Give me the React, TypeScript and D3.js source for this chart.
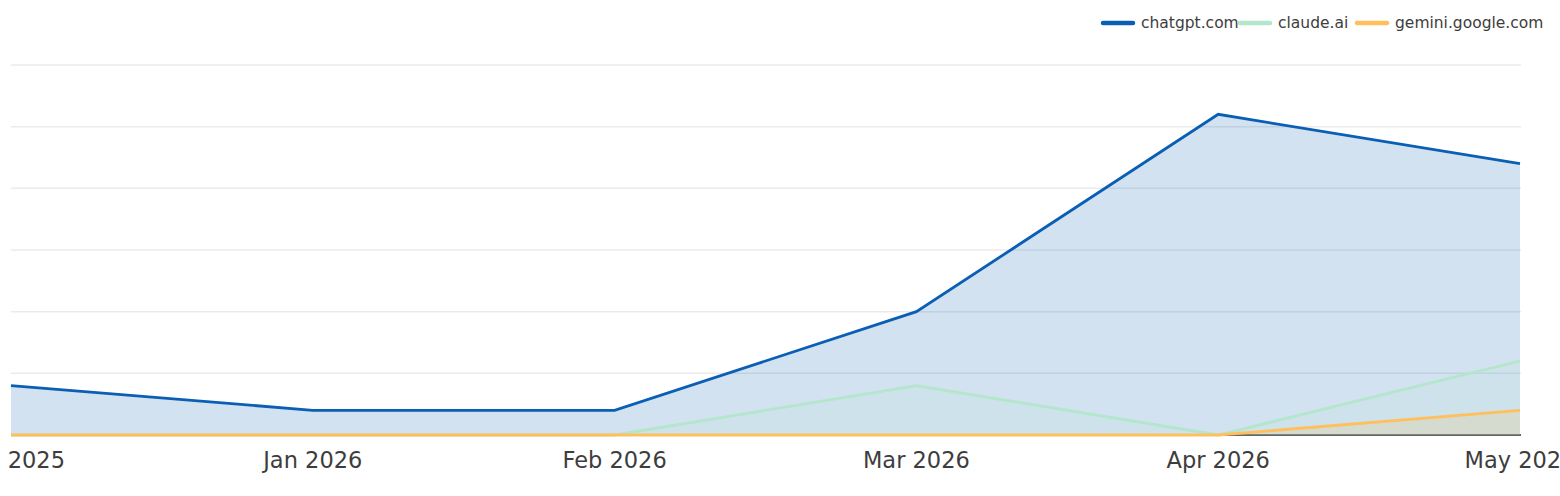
import { useEffect, useRef } from 'react';
import * as d3 from 'd3';

// Datos
const months = ['2025-12', '2026-01', '2026-02', '2026-03', '2026-04', '2026-05'];
const monthLabels = ['Dec 2025', 'Jan 2026', 'Feb 2026', 'Mar 2026', 'Apr 2026', 'May 2026'];
const chatgpt = [2, 1, 1, 5, 13, 11];
const claude = [0, 0, 0, 2, 0, 3];
const gemini = [0, 0, 0, 0, 0, 1];
const yTicks = [0, 2.5, 5, 7.5, 10, 12.5, 15];

const seriesNames = ['chatgpt.com', 'claude.ai', 'gemini.google.com'];
const seriesColors = ['#0a5fb4', '#b3e6cb', '#ffbf5c'];

export default function App() {
  const ref = useRef<SVGSVGElement | null>(null);

  useEffect(() => {
    if (!ref.current) return;
    const W = 1560;
    const H = 496;
    const svg = d3.select(ref.current);
    svg.selectAll('*').remove();
    svg.attr('width', W).attr('height', H).attr('viewBox', `0 0 ${W} ${H}`);

    const x = d3.scalePoint<string>().domain(months).range([11, 1520]);
    const y = d3.scaleLinear().domain([0, 15]).range([435, 65]);

    // Rejilla
    svg.append('g')
      .selectAll('line')
      .data(yTicks.slice(1))
      .enter()
      .append('line')
      .attr('x1', 11)
      .attr('x2', 1521)
      .attr('y1', (d) => y(d))
      .attr('y2', (d) => y(d))
      .attr('stroke', '#ebebeb')
      .attr('stroke-width', 1.5);

    // Eje X
    svg.append('line')
      .attr('x1', 11)
      .attr('x2', 1521)
      .attr('y1', y(0))
      .attr('y2', y(0))
      .attr('stroke', '#333')
      .attr('stroke-width', 1.5);

    svg.append('g')
      .selectAll('text')
      .data(months)
      .enter()
      .append('text')
      .attr('x', (d) => x(d)!)
      .attr('y', 468)
      .attr('text-anchor', 'middle')
      .attr('fill', '#3d3d3d')
      .style('font-family', 'DejaVu Sans')
      .style('font-size', '22.5px')
      .text((_, i) => monthLabels[i]);

    const all = [chatgpt, claude, gemini];
    type P = { m: string; v: number };
    const area = d3.area<P>().x((d) => x(d.m)!).y0(y(0)).y1((d) => y(d.v));
    const line = d3.line<P>().x((d) => x(d.m)!).y((d) => y(d.v));

    all.forEach((vals, i) => {
      const pts = vals.map((v, j) => ({ m: months[j], v }));
      svg.append('path')
        .datum(pts)
        .attr('fill', seriesColors[i])
        .attr('fill-opacity', 0.18)
        .attr('d', area);
    });
    all.forEach((vals, i) => {
      const pts = vals.map((v, j) => ({ m: months[j], v }));
      svg.append('path')
        .datum(pts)
        .attr('fill', 'none')
        .attr('stroke', seriesColors[i])
        .attr('stroke-width', 2.8)
        .attr('d', line);
    });

    // Leyenda
    const legendX = [1103, 1240, 1357];
    const lg = svg.append('g');
    seriesNames.forEach((name, i) => {
      lg.append('line')
        .attr('x1', legendX[i])
        .attr('x2', legendX[i] + 30)
        .attr('y1', 23)
        .attr('y2', 23)
        .attr('stroke', seriesColors[i])
        .attr('stroke-width', 4.5)
        .attr('stroke-linecap', 'round');
      lg.append('text')
        .attr('x', legendX[i] + 38)
        .attr('y', 28)
        .attr('fill', '#3d3d3d')
        .style('font-family', 'DejaVu Sans')
        .style('font-size', '15.5px')
        .text(name);
    });
  }, []);

  return (
    <svg
      ref={ref}
      style={{ position: 'absolute', left: 0, top: 0, display: 'block' }}
    ></svg>
  );
}
